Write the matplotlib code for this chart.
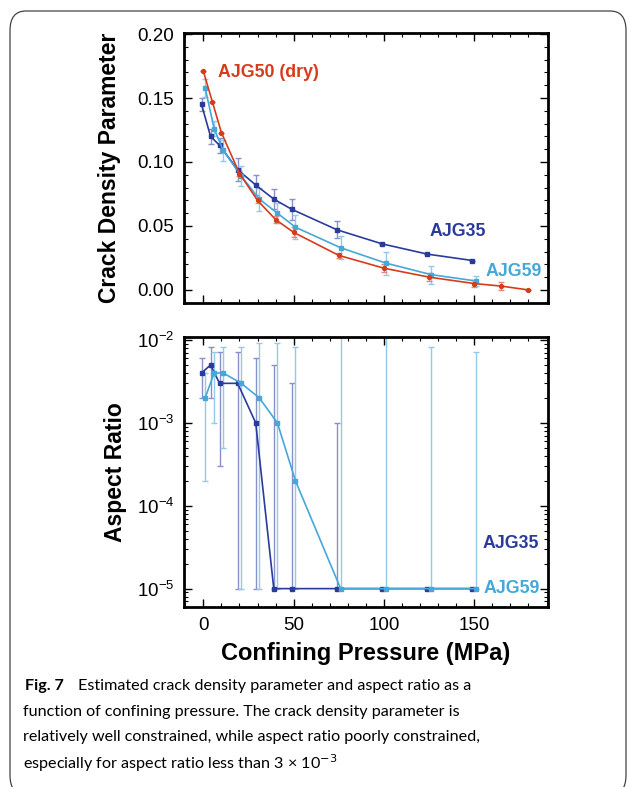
import numpy as np
import matplotlib
matplotlib.use("Agg")
import matplotlib.pyplot as plt
from matplotlib.patches import FancyBboxPatch
from matplotlib.ticker import MultipleLocator, LogLocator, NullFormatter

plt.rcParams["font.family"] = ["Liberation Sans", "DejaVu Sans"]

# ---- data ----
pressure = [0, 5, 10, 20, 30, 40, 50, 75, 100, 125, 150]
pressure_dry = [0, 5, 10, 20, 30, 40, 50, 75, 100, 125, 150, 165, 180]

cd_dry = [0.171, 0.147, 0.123, 0.091, 0.070, 0.055, 0.045, 0.027, 0.017, 0.010, 0.005, 0.003, 0.000]
cd_dry_err = [0.0, 0.0, 0.0, 0.002, 0.002, 0.003, 0.004, 0.002, 0.003, 0.003, 0.003, 0.003, 0.0]

cd_35 = [0.145, 0.120, 0.113, 0.094, 0.082, 0.071, 0.063, 0.047, 0.036, 0.028, 0.023]
cd_35_err = [0.005, 0.006, 0.006, 0.009, 0.008, 0.008, 0.008, 0.0065, 0.0, 0.0, 0.0]

cd_59 = [0.158, 0.126, 0.109, 0.089, 0.071, 0.060, 0.049, 0.033, 0.021, 0.012, 0.007]
cd_59_err = [0.007, 0.006, 0.008, 0.0075, 0.009, 0.008, 0.0095, 0.009, 0.009, 0.007, 0.004]

ar_35 = [4e-3, 5e-3, 3e-3, 3e-3, 1e-3, 1e-5, 1e-5, 1e-5, 1e-5, 1e-5, 1e-5]
ar_35_hi = [6e-3, 8.3e-3, 7.2e-3, 7.2e-3, 6e-3, 5e-3, 3e-3, 1e-3, 1e-5, 1e-5, 1e-5]
ar_35_lo = [2e-3, 2e-3, 3e-4, 1e-5, 1e-5, 1e-5, 1e-5, 1e-5, 1e-5, 1e-5, 1e-5]

ar_59 = [2e-3, 4e-3, 4e-3, 3e-3, 2e-3, 1e-3, 2e-4, 1e-5, 1e-5, 1e-5, 1e-5]
ar_59_hi = [4e-3, 7.1e-3, 8.3e-3, 8.3e-3, 9.1e-3, 9.1e-3, 8.3e-3, 2e-2, 2e-2, 8.3e-3, 7.1e-3]
ar_59_lo = [2e-4, 1e-3, 5e-4, 1e-5, 1e-5, 1e-5, 1e-5, 1e-5, 1e-5, 1e-5, 1e-5]

caption_head = "Fig. 7"
caption_lines = [
    "Estimated crack density parameter and aspect ratio as a",
    "function of confining pressure. The crack density parameter is",
    "relatively well constrained, while aspect ratio poorly constrained,",
    "especially for aspect ratio less than 3 \u00d7 10$^{\u22123}$",
]

RED = "#d63c1c"
DARK = "#2a3b9c"
LIGHT = "#45a8d9"
DARK_ERR = "#8790c8"
LIGHT_ERR = "#92cbea"
CAP_FONT = ["Lato", "DejaVu Sans"]

fig = plt.figure(figsize=(6.29, 7.87), dpi=100)

# rounded outer frame
frame = FancyBboxPatch((10 / 629, -0.01), 616 / 629, 1 - 11 / 787 + 0.01,
                       boxstyle="round,pad=0,rounding_size=0.025",
                       transform=fig.transFigure, fill=False,
                       edgecolor="#444444", linewidth=0.9)
fig.patches.append(frame)

ax1 = fig.add_axes([184 / 629, 1 - 303 / 787, 364 / 629, 270 / 787])
ax2 = fig.add_axes([184 / 629, 1 - 607 / 787, 364 / 629, 270 / 787])

p35 = np.array(pressure) - 1
p59 = np.array(pressure) + 1

# ---- top: crack density ----
ax1.errorbar(p35, cd_35, yerr=cd_35_err, fmt="none", ecolor=DARK_ERR,
             elinewidth=1.0, capsize=2, zorder=1)
ax1.errorbar(p59, cd_59, yerr=cd_59_err, fmt="none", ecolor=LIGHT_ERR,
             elinewidth=1.0, capsize=2, zorder=1)
ax1.errorbar(pressure_dry, cd_dry, yerr=cd_dry_err, fmt="none", ecolor="#e58a70",
             elinewidth=1.0, capsize=2, zorder=1)
ax1.plot(p35, cd_35, "-s", color=DARK, ms=3.5, lw=1.2, zorder=3)
ax1.plot(p59, cd_59, "-s", color=LIGHT, ms=3.5, lw=1.2, zorder=3)
ax1.plot(pressure_dry, cd_dry, "-o", color=RED, ms=2.8, lw=1.2, zorder=4)

ax1.text(8, 0.170, "AJG50 (dry)", color=RED, fontsize=12.8, fontweight="bold", va="center")
ax1.text(125.5, 0.0455, "AJG35", color=DARK, fontsize=12.8, fontweight="bold", va="center")
ax1.text(156, 0.0143, "AJG59", color=LIGHT, fontsize=12.8, fontweight="bold", va="center")

ax1.set_xlim(-10.7, 190.8)
ax1.set_ylim(-0.0102, 0.2008)
ax1.yaxis.set_major_locator(MultipleLocator(0.05))
ax1.yaxis.set_minor_locator(MultipleLocator(0.01))
ax1.yaxis.set_major_formatter(plt.FuncFormatter(lambda v, p: f"{v:.2f}"))
ax1.set_xticklabels([])
ax1.set_ylabel("Crack Density Parameter", fontsize=16.5, fontweight="bold")
ax1.yaxis.set_label_coords(-0.173, 0.5)

# ---- bottom: aspect ratio ----
ar35_err = [np.array(ar_35) - np.array(ar_35_lo), np.array(ar_35_hi) - np.array(ar_35)]
ar59_err = [np.array(ar_59) - np.array(ar_59_lo), np.array(ar_59_hi) - np.array(ar_59)]
ax2.errorbar(p35, ar_35, yerr=ar35_err, fmt="none", ecolor=DARK_ERR,
             elinewidth=1.0, capsize=2, zorder=1)
ax2.errorbar(p59, ar_59, yerr=ar59_err, fmt="none", ecolor=LIGHT_ERR,
             elinewidth=1.0, capsize=2, zorder=1)
ax2.plot(p35, ar_35, "-s", color=DARK, ms=3.5, lw=1.2, zorder=3)
ax2.plot(p59, ar_59, "-s", color=LIGHT, ms=3.5, lw=1.2, zorder=3)

ax2.text(154.7, 3.54e-5, "AJG35", color=DARK, fontsize=12.8, fontweight="bold", va="center")
ax2.text(155.4, 1e-5, "AJG59", color=LIGHT, fontsize=12.8, fontweight="bold", va="center")

ax2.set_yscale("log")
ax2.set_xlim(-10.7, 190.8)
ax2.set_ylim(6.0e-6, 1.087e-2)
ax2.yaxis.set_major_locator(LogLocator(base=10, numticks=10))
ax2.yaxis.set_minor_locator(LogLocator(base=10, subs=np.arange(2, 10), numticks=10))
ax2.yaxis.set_minor_formatter(NullFormatter())
ax2.set_ylabel("Aspect Ratio", fontsize=16.5, fontweight="bold")
ax2.yaxis.set_label_coords(-0.157, 0.5)
ax2.set_xlabel("Confining Pressure (MPa)", fontsize=17, fontweight="bold", labelpad=6)

for ax in (ax1, ax2):
    ax.xaxis.set_major_locator(MultipleLocator(50))
    ax.xaxis.set_minor_locator(MultipleLocator(10))
    ax.tick_params(which="both", direction="in", top=True, right=True)
    ax.tick_params(which="major", length=6, width=1.0, labelsize=13.5, pad=7)
    ax.tick_params(which="minor", length=3, width=0.8)
    for s in ax.spines.values():
        s.set_linewidth(2.0)

# ---- caption ----
fig.text(25 / 629, 1 - 686 / 787, caption_head, fontsize=11.6, fontweight="bold",
         family=CAP_FONT, va="center")
fig.text(78 / 629, 1 - 686 / 787, caption_lines[0], fontsize=11.6,
         family=CAP_FONT, va="center")
for i, line in enumerate(caption_lines[1:]):
    fig.text(23 / 629, 1 - (712 + 25.5 * i) / 787, line, fontsize=11.6,
             family=CAP_FONT, va="center")

fig.savefig("out.png", dpi=100)
